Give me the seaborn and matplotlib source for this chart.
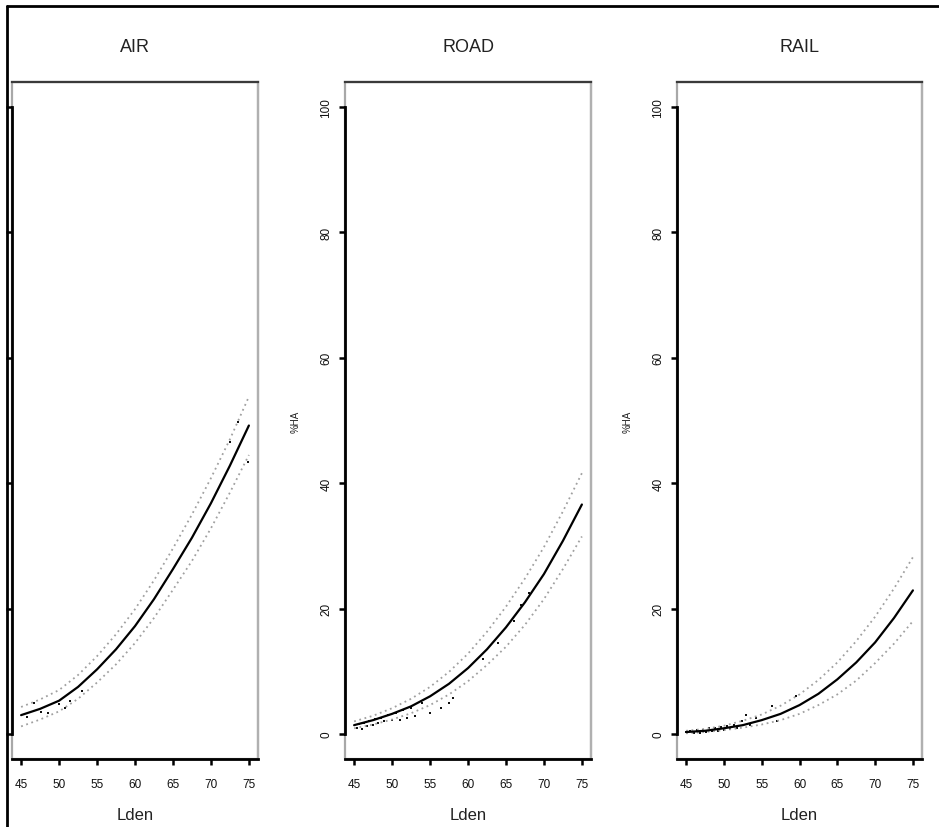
import numpy as np
import pandas as pd
import seaborn as sns
import matplotlib.pyplot as plt
from matplotlib.lines import Line2D
from matplotlib.patches import Rectangle

sns.set_theme(style="white")
plt.rcParams['font.family'] = ['Liberation Sans', 'DejaVu Sans']

# Lden grid the curves were read at
lden = [45, 47.5, 50, 52.5, 55, 57.5, 60, 62.5, 65, 67.5, 70, 72.5, 75]

# %HA: fitted curve and the two confidence bounds
air_mean = [3.0, 4.0, 5.3, 7.5, 10.3, 13.5, 17.2, 21.5, 26.3, 31.3, 36.8, 42.8, 49.2]
air_upper = [4.3, 5.5, 7.0, 9.4, 12.4, 15.9, 19.9, 24.5, 29.6, 35.0, 40.8, 47.0, 53.8]
air_lower = [1.2, 2.3, 3.6, 5.6, 8.2, 11.1, 14.5, 18.5, 23.0, 27.6, 32.8, 38.5, 44.5]

road_mean = [1.4, 2.2, 3.2, 4.4, 6.0, 8.0, 10.5, 13.5, 17.0, 21.0, 25.5, 30.8, 36.6]
road_upper = [2.0, 2.9, 4.1, 5.6, 7.5, 9.9, 12.8, 16.3, 20.3, 24.8, 29.8, 35.5, 41.6]
road_lower = [0.9, 1.5, 2.3, 3.3, 4.6, 6.3, 8.4, 11.0, 13.9, 17.4, 21.5, 26.3, 31.5]

rail_mean = [0.3, 0.5, 0.9, 1.4, 2.2, 3.2, 4.6, 6.4, 8.7, 11.4, 14.6, 18.5, 22.9]
rail_upper = [0.5, 0.8, 1.3, 2.1, 3.1, 4.5, 6.3, 8.6, 11.4, 14.8, 18.7, 23.2, 28.2]
rail_lower = [0.1, 0.3, 0.6, 1.0, 1.5, 2.2, 3.2, 4.6, 6.3, 8.5, 11.3, 14.4, 18.0]

# scattered observations (Lden, %HA)
air_pts_x = [45.8, 46.7, 47.6, 48.5, 50.0, 50.8, 51.5, 53.0, 72.5, 73.6, 74.9]
air_pts_y = [2.7, 5.0, 3.5, 3.3, 4.8, 4.2, 5.2, 6.8, 46.5, 49.7, 43.4]

road_pts_x = [45.4, 45.7, 46.0, 46.3, 46.7, 47.0, 47.5, 47.8, 48.2, 48.6, 49.0,
              49.5, 50.0, 50.5, 51.0, 51.5, 52.0, 52.5, 53.0, 54.0, 55.0, 56.5,
              57.5, 58.0, 62.0, 64.0, 66.0, 67.0, 68.0]
road_pts_y = [1.0, 1.6, 0.8, 1.8, 1.2, 2.0, 1.5, 2.4, 1.7, 2.6, 2.0,
              3.0, 2.3, 3.4, 2.2, 3.8, 2.6, 4.2, 2.9, 5.0, 3.3, 4.2,
              5.0, 5.8, 12.0, 14.5, 18.0, 20.5, 22.5]

rail_pts_x = [45.0, 45.5, 46.0, 46.4, 46.8, 47.2, 47.6, 48.0, 48.4, 48.8, 49.2,
              49.6, 50.0, 50.4, 50.8, 51.3, 51.8, 52.4, 52.9, 53.5, 54.2, 56.3,
              57.0, 59.6]
rail_pts_y = [0.3, 0.5, 0.1, 0.6, 0.2, 0.7, 0.3, 0.9, 0.4, 1.0, 0.5,
              1.1, 0.6, 1.2, 0.8, 1.4, 0.9, 2.0, 3.0, 1.5, 2.6, 4.5,
              2.0, 6.1]

panels = [
    ("AIR", air_mean, air_upper, air_lower, air_pts_x, air_pts_y, [12, 246]),
    ("ROAD", road_mean, road_upper, road_lower, road_pts_x, road_pts_y, [345, 246]),
    ("RAIL", rail_mean, rail_upper, rail_lower, rail_pts_x, rail_pts_y, [677, 245]),
]

W, H = 939, 828
fig = plt.figure(figsize=(W / 100, H / 100), dpi=100)

for i, (title, mean, upper, lower, px, py, (left, width)) in enumerate(panels):
    ax = fig.add_axes([left / W, 68 / H, width / W, 677 / H])
    df = pd.DataFrame({"Lden": lden, "mean": mean, "upper": upper, "lower": lower})
    sns.lineplot(data=df, x="Lden", y="upper", ax=ax, color="#a0a0a0",
                 lw=1.3, linestyle=(0, (1, 2.0)))
    sns.lineplot(data=df, x="Lden", y="lower", ax=ax, color="#a0a0a0",
                 lw=1.3, linestyle=(0, (1, 2.0)))
    sns.scatterplot(x=px, y=py, ax=ax, color="#111111", marker="s", s=4,
                    linewidth=0)
    sns.lineplot(data=df, x="Lden", y="mean", ax=ax, color="black", lw=1.6)

    ax.set_xlim(43.8, 76.2)
    ax.set_ylim(-4, 104)
    ax.set_xticks([45, 50, 55, 60, 65, 70, 75])
    ax.set_yticks([0, 20, 40, 60, 80, 100])
    ax.set_xlabel("Lden", fontsize=12, labelpad=12, color="#222222")
    ax.set_title(title, fontsize=13, pad=22, color="#222222")
    ax.tick_params(axis="both", direction="out", length=4, width=1.8,
                   color="black", labelsize=8.5, labelcolor="#111111",
                   left=True, bottom=True)
    ax.tick_params(axis="x", pad=10)
    ax.tick_params(axis="y", pad=5)
    if i == 0:
        # the page is cropped here: the AIR y labels fall outside the picture
        ax.set_yticklabels([])
        ax.set_ylabel("")
    else:
        ax.set_ylabel("%HA", fontsize=7, labelpad=14, color="#222222")
        plt.setp(ax.get_yticklabels(), rotation=90, va="center")

    # R-like frame: grey box, black axis lines
    ax.add_patch(Rectangle((0, 0), 1, 1, transform=ax.transAxes, fill=False,
                           edgecolor="#a8a8a8", lw=1.6, zorder=0.5, clip_on=False))
    ax.spines["top"].set_color("#3a3a3a")
    ax.spines["top"].set_linewidth(1.6)
    ax.spines["right"].set_color("#b0b0b0")
    ax.spines["right"].set_linewidth(1.6)
    ax.spines["left"].set_color("black")
    ax.spines["left"].set_linewidth(2.0)
    ax.spines["left"].set_bounds(0, 100)
    ax.spines["bottom"].set_color("black")
    ax.spines["bottom"].set_linewidth(2.0)
    ax.grid(False)

# outer border of the cropped page (top and left only)
fig.add_artist(Line2D([7 / W, 1], [1 - 7 / H, 1 - 7 / H], color="black", lw=2.0))
fig.add_artist(Line2D([7 / W, 7 / W], [0, 1 - 7 / H], color="black", lw=2.0))

fig.savefig("out.png", dpi=100)
